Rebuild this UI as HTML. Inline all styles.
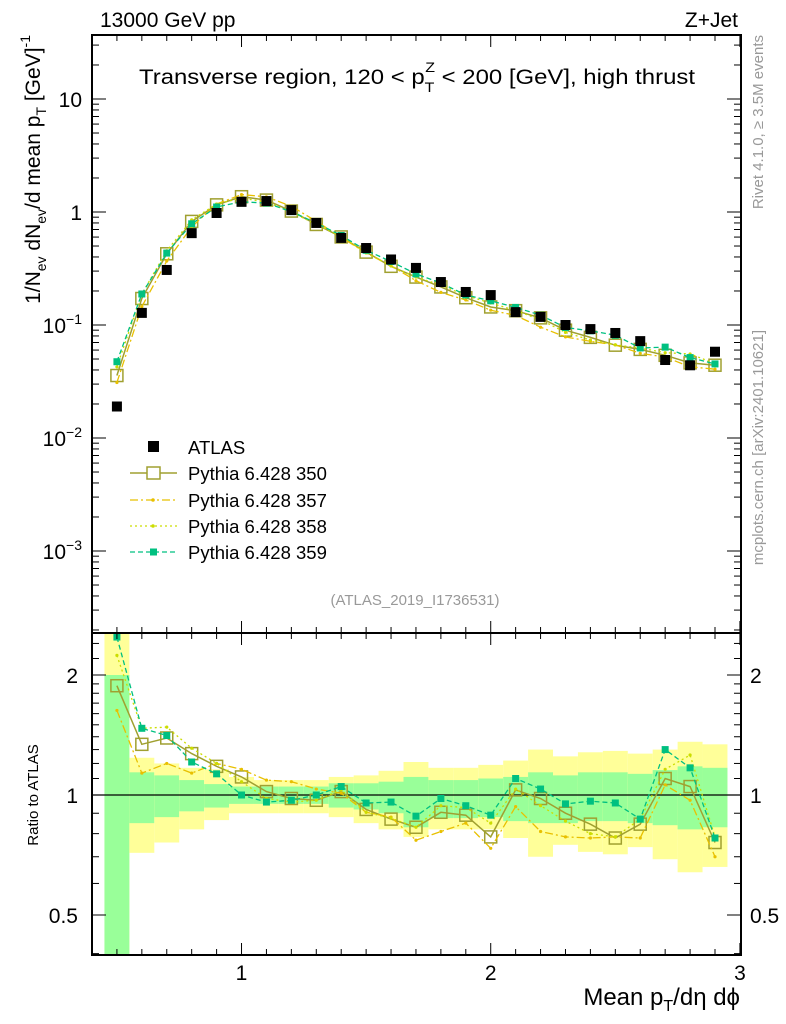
<!DOCTYPE html>
<html><head><meta charset="utf-8"><style>
body{margin:0;background:#fff;}
svg{display:block;font-family:"Liberation Sans",sans-serif;}
</style></head><body>
<svg id="c" width="786" height="1024" xmlns="http://www.w3.org/2000/svg"></svg>
<script>
const xs=[0.5,0.6,0.7,0.8,0.9,1.0,1.1,1.2,1.3,1.4,1.5,1.6,1.7,1.8,1.9,2.0,2.1,2.2,2.3,2.4,2.5,2.6,2.7,2.8,2.9];
const atlas=[0.019,0.128,0.307,0.65,0.98,1.23,1.25,1.04,0.8,0.59,0.48,0.38,0.32,0.24,0.196,0.184,0.13,0.118,0.1,0.092,0.085,0.072,0.049,0.044,0.058];
const r350=[1.88,1.34,1.39,1.27,1.18,1.11,1.02,0.98,0.97,1.02,0.92,0.87,0.83,0.905,0.89,0.785,1.03,0.98,0.9,0.845,0.78,0.845,1.10,1.05,0.76];
const r357=[1.63,1.135,1.2,1.135,1.2,1.16,1.09,1.08,1.035,1.01,0.905,0.88,0.77,0.81,0.85,0.735,0.935,0.81,0.785,0.78,0.785,0.78,1.06,0.97,0.70];
const r358=[2.24,1.47,1.48,1.31,1.2,1.08,0.98,0.96,0.97,1.03,0.905,0.875,0.83,0.94,0.93,0.85,1.035,0.94,0.86,0.8,0.785,0.87,1.16,1.26,0.785];
const r359=[2.49,1.47,1.41,1.21,1.13,1.0,0.96,0.97,1.0,1.05,0.955,0.96,0.885,0.98,0.94,0.89,1.10,1.035,0.95,0.965,0.955,0.87,1.30,1.17,0.78];
const gHi=[2.0,1.14,1.12,1.09,1.065,1.05,1.05,1.05,1.05,1.07,1.07,1.08,1.11,1.09,1.09,1.10,1.11,1.14,1.12,1.14,1.14,1.13,1.155,1.18,1.17];
const gLo=[0.3,0.85,0.88,0.91,0.93,0.95,0.95,0.95,0.95,0.93,0.92,0.9,0.83,0.875,0.875,0.88,0.86,0.85,0.85,0.86,0.86,0.85,0.84,0.82,0.83];
const yHi=[3.0,1.24,1.2,1.17,1.16,1.11,1.09,1.09,1.09,1.11,1.12,1.15,1.21,1.17,1.17,1.19,1.22,1.30,1.25,1.28,1.29,1.27,1.30,1.36,1.34];
const yLo=[0.3,0.716,0.76,0.82,0.865,0.9,0.9,0.9,0.9,0.88,0.85,0.82,0.785,0.82,0.82,0.82,0.78,0.70,0.75,0.72,0.71,0.74,0.69,0.64,0.66];

const L=92,R=741,T=35,M=633,B=955;
const X=v=>92+(v-0.4)*249.2;
const Y=v=>212-113*Math.log10(v);
const YR=v=>795-120*Math.log2(v);
const svg=document.getElementById('c');
const NS='http://www.w3.org/2000/svg';
function el(tag,attrs,parent){const e=document.createElementNS(NS,tag);for(const k in attrs)e.setAttribute(k,attrs[k]);(parent||svg).appendChild(e);return e;}
function txt(s,attrs,parent){const e=el('text',attrs,parent);e.innerHTML=s;return e;}

const defs=el('defs',{});
const cp1=el('clipPath',{id:'cm'},defs);el('rect',{x:L,y:T,width:R-L,height:M-T},cp1);
const cp2=el('clipPath',{id:'cr'},defs);el('rect',{x:L,y:M,width:R-L,height:B-M},cp2);

const gr=el('g',{'clip-path':'url(#cr)'});


xs.forEach((x,i)=>{
  const x0=X(x-0.05),x1=X(x+0.05);
  const ry=el('rect',{x:x0,y:YR(yHi[i]),width:x1-x0,height:YR(yLo[i])-YR(yHi[i]),fill:'#ffff99'},gr);
  
  
  const rg=el('rect',{x:x0,y:YR(gHi[i]),width:x1-x0,height:YR(gLo[i])-YR(gHi[i]),fill:'#99ff99'},gr);
  
  
});
el('line',{x1:L,x2:R,y1:YR(1),y2:YR(1),stroke:'#000','stroke-width':1.3},gr);

const series=[
 {name:'350',r:r350,color:'#a0a030',dash:'',w:1.5,m:'box'},
 {name:'357',r:r357,color:'#e8c000',dash:'8,3,2,3',w:1.3,m:'dot'},
 {name:'358',r:r358,color:'#ccdd00',dash:'2,3',w:1.3,m:'dot'},
 {name:'359',r:r359,color:'#00c080',dash:'5,3',w:1.3,m:'sq'}
];
function drawSeries(s,g,ymap,vals){
  const pts=xs.map((x,i)=>X(x).toFixed(1)+','+ymap(vals[i]).toFixed(1)).join(' ');
  const pl=el('polyline',{points:pts,fill:'none',stroke:s.color,'stroke-width':s.w,'stroke-dasharray':s.dash},g);
  
  
  xs.forEach((x,i)=>{
    const cx=X(x),cy=ymap(vals[i]);let mk;
    if(s.m==='box')mk=el('rect',{x:cx-6,y:cy-6,width:12,height:12,fill:'none',stroke:s.color,'stroke-width':1.5},g);
    else if(s.m==='sq')mk=el('rect',{x:cx-3.5,y:cy-3.5,width:7,height:7,fill:s.color},g);
    else mk=el('circle',{cx:cx,cy:cy,r:1.6,fill:s.color},g);
    
    
  });
}
series.forEach(s=>{
  const g=el('g',{'clip-path':'url(#cr)'});
  
  
  drawSeries(s,g,YR,s.r);
});
series.forEach(s=>{
  const g=el('g',{'clip-path':'url(#cm)'});
  
  
  drawSeries(s,g,Y,atlas.map((a,i)=>a*s.r[i]));
});
const ga=el('g',{'clip-path':'url(#cm)'});


xs.forEach((x,i)=>{
  const p=el('rect',{x:X(x)-5,y:Y(atlas[i])-5,width:10,height:10,fill:'#000'},ga);
  
  
});

[[T,M],[M,B]].forEach(([a,b])=>el('rect',{x:L,y:a,width:R-L,height:b-a,fill:'none',stroke:'#000','stroke-width':2}));
for(let k=4;k<=30;k++){
  const v=k/10,x=X(v),maj=(k%10===0);const len=maj?12:6;
  [T,M,B].forEach(y0=>{
    if(y0!==T)el('line',{x1:x,x2:x,y1:y0,y2:y0-len,stroke:'#000','stroke-width':1});
    if(y0!==B)el('line',{x1:x,x2:x,y1:y0,y2:y0+len,stroke:'#000','stroke-width':1});
  });
}
const xl=[1,2,3];
xl.forEach(v=>{const t=txt(String(v),{x:X(v),y:980,'font-size':21,'text-anchor':'middle'});});
for(let d=-4;d<=1;d++)for(let m=1;m<10;m++){
  const v=m*Math.pow(10,d),y=Y(v);if(y<T||y>M)continue;const len=m===1?14:7;
  el('line',{x1:L,x2:L+len,y1:y,y2:y,stroke:'#000'});el('line',{x1:R,x2:R-len,y1:y,y2:y,stroke:'#000'});
}
const ylab=[['10',10],['1',1],['10<tspan dy="-9" font-size="14">−1</tspan>',0.1],['10<tspan dy="-9" font-size="14">−2</tspan>',0.01],['10<tspan dy="-9" font-size="14">−3</tspan>',0.001]];
ylab.forEach(([s,v])=>{const t=txt(s,{x:82,y:Y(v)+8,'font-size':21,'text-anchor':'end'});});
[0.4,0.5,0.6,0.7,0.8,0.9,1,1.1,1.2,1.3,1.4,1.5,1.6,1.7,1.8,1.9,2,2.2,2.4].forEach(v=>{
  const y=YR(v);if(y<M||y>B)return;const len=(v===0.5||v===1||v===2)?14:7;
  el('line',{x1:L,x2:L+len,y1:y,y2:y,stroke:'#000'});el('line',{x1:R,x2:R-len,y1:y,y2:y,stroke:'#000'});
});
[['2',2],['1',1],['0.5',0.5]].forEach(([s,v])=>{
  const a=txt(s,{x:78,y:YR(v)+8,'font-size':21,'text-anchor':'end'});
  const b=txt(s,{x:750,y:YR(v)+8,'font-size':21});
});
let t;
t=txt('13000 GeV pp',{x:100,y:27,'font-size':21});
t=txt('Z+Jet',{x:738,y:27,'font-size':21,'text-anchor':'end'});
t=txt('Transverse region, 120 &lt; p<tspan dy="8" font-size="14">T</tspan><tspan dy="-20" dx="-8" font-size="14">Z</tspan><tspan dy="12"> &lt; 200 [GeV], high thrust</tspan>',{x:139,y:84,'font-size':21,textLength:556,lengthAdjust:'spacingAndGlyphs'});
t=txt('(ATLAS_2019_I1736531)',{x:415,y:605,'font-size':15,fill:'#999','text-anchor':'middle'});
t=txt('1/N<tspan dy="6" font-size="14">ev</tspan><tspan dy="-6"> dN</tspan><tspan dy="6" font-size="14">ev</tspan><tspan dy="-6">/d mean p</tspan><tspan dy="6" font-size="14">T</tspan><tspan dy="-6"> [GeV]</tspan><tspan dy="-10" font-size="14">-1</tspan>',{x:0,y:0,'font-size':21,'text-anchor':'end',transform:'translate(40,35) rotate(-90)'});
t=txt('Ratio to ATLAS',{x:0,y:0,'font-size':15,'text-anchor':'middle',transform:'translate(38,795) rotate(-90)'});
t=txt('Mean p<tspan dy="6" font-size="16">T</tspan><tspan dy="-6">/dη dϕ</tspan>',{x:740,y:1005,'font-size':24,'text-anchor':'end'});
t=txt('Rivet 4.1.0, ≥ 3.5M events',{x:0,y:0,'font-size':15,fill:'#999','text-anchor':'end',transform:'translate(763,35) rotate(-90)'});
t=txt('mcplots.cern.ch [arXiv:2401.10621]',{x:0,y:0,'font-size':15,fill:'#999','text-anchor':'end',transform:'translate(763,330) rotate(-90)'});
const lg=el('g',{});


const ly=[447,473,500,526,552];
el('rect',{x:148,y:441,width:11,height:11,fill:'#000'},lg);
txt('ATLAS',{x:188,y:454,'font-size':18.5},lg);
series.forEach((s,i)=>{
  const y=ly[i+1];
  const e=el('g',{},lg);
  
  
  el('line',{x1:130,x2:177,y1:y,y2:y,stroke:s.color,'stroke-width':s.w,'stroke-dasharray':s.dash},e);
  if(s.m==='box')el('rect',{x:147,y:y-6,width:13,height:12,fill:'#fff',stroke:s.color,'stroke-width':1.5},e);
  else if(s.m==='sq')el('rect',{x:150,y:y-3.5,width:7,height:7,fill:s.color},e);
  else el('circle',{cx:153,cy:y,r:1.8,fill:s.color},e);
  txt('Pythia 6.428 '+s.name,{x:188,y:y+7,'font-size':18.5},e);
});
</script>
</body></html>
